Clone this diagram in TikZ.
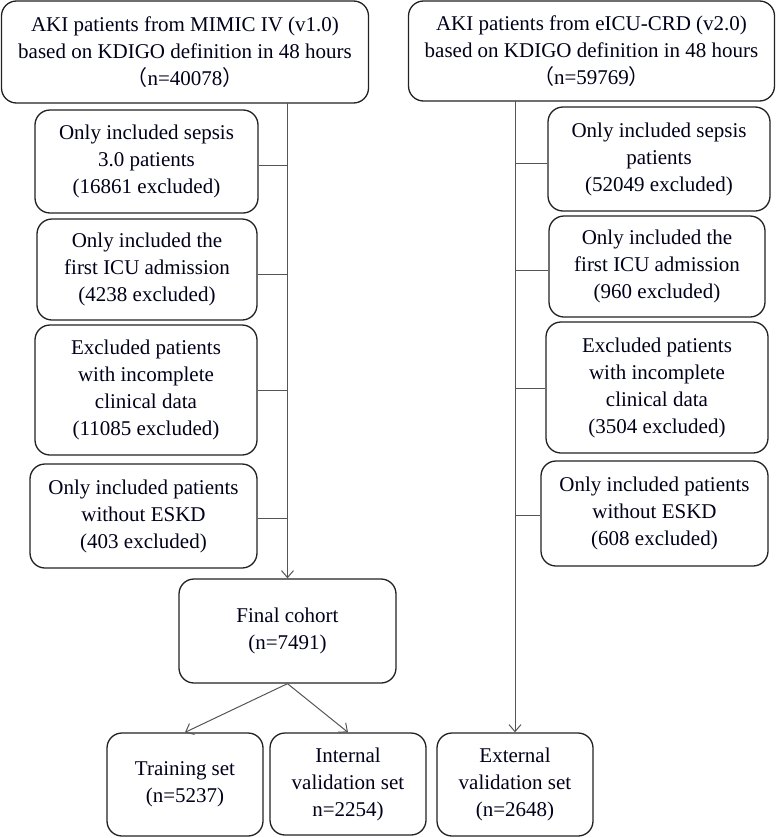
\documentclass[tikz,border=0pt]{standalone}
\usepackage{fontspec}
\setmainfont{Liberation Serif}
\newfontfamily\cjk{Noto Sans CJK SC}
\usetikzlibrary{arrows.meta}
\definecolor{linegray}{HTML}{555555}
\definecolor{boxline}{HTML}{222222}
\tikzset{
  box/.style={draw=boxline, line width=1.3pt, rounded corners=15pt, inner sep=0pt,
    align=center, font=\fontsize{21}{27}\selectfont, text=black!90!blue},
  conn/.style={draw=linegray, line width=1pt},
  arr/.style={conn, -{Straight Barb[length=7pt,width=12pt]}}
}
\begin{document}
\begin{tikzpicture}[x=1pt,y=-1pt]
\useasboundingbox (0,0) rectangle (778,838);
% top boxes
\node[box, minimum width=367pt, minimum height=102pt] (tl) at (185,52)
  {AKI patients from MIMIC IV (v1.0)\\based on KDIGO definition in 48 hours\\{\cjk （}n=40078{\cjk ）}};
\node[box, minimum width=366pt, minimum height=100pt] (tr) at (591.5,51)
  {AKI patients from eICU-CRD (v2.0)\\based on KDIGO definition in 48 hours\\{\cjk （}n=59769{\cjk ）}};
% left exclusion boxes
\node[box, minimum width=223pt, minimum height=103pt] (l1) at (146.5,161.5)
  {Only included sepsis\\3.0 patients\\(16861 excluded)};
\node[box, minimum width=220pt, minimum height=101pt] (l2) at (147,269.5)
  {Only included the\\first ICU admission\\(4238 excluded)};
\node[box, minimum width=222pt, minimum height=130pt] (l3) at (146,390)
  {Excluded patients\\with incomplete\\clinical data\\(11085 excluded)};
\node[box, minimum width=227pt, minimum height=104pt] (l4) at (143.5,516)
  {Only included patients\\without ESKD\\(403 excluded)};
% right exclusion boxes
\node[box, minimum width=222pt, minimum height=104pt] (r1) at (659,159)
  {Only included sepsis\\patients\\(52049 excluded)};
\node[box, minimum width=216pt, minimum height=101pt] (r2) at (657,266.5)
  {Only included the\\first ICU admission\\(960 excluded)};
\node[box, minimum width=222pt, minimum height=131pt] (r3) at (657,387.5)
  {Excluded patients\\with incomplete\\clinical data\\(3504 excluded)};
\node[box, minimum width=227pt, minimum height=105pt] (r4) at (654.5,513.5)
  {Only included patients\\without ESKD\\(608 excluded)};
% lower boxes
\node[box, minimum width=217pt, minimum height=104pt] (fin) at (287.5,631)
  {Final cohort\\(n=7491)};
\node[box, minimum width=156pt, minimum height=103pt] (train) at (185,784.5)
  {Training set\\(n=5237)};
\node[box, minimum width=156pt, minimum height=102pt] (intl) at (348,784)
  {Internal\\validation set\\n=2254)};
\node[box, minimum width=156pt, minimum height=103pt] (ext) at (515,784.5)
  {External\\validation set\\(n=2648)};
% trunks
\coordinate (lt) at (287.5,103);
\coordinate (rt) at (515,101);
\draw[arr] (lt) -- (fin.north);
\draw[arr] (rt) -- (ext.north);
% side connectors
\foreach \b/\s in {l1/-3.5,l2/-4.5,l3/0,l4/-2}
  \draw[conn] ([yshift=\s pt]\b.east) -- ([yshift=\s pt]\b.east -| lt);
\foreach \b/\s in {r1/-4,r2/-3.5,r3/-0.5,r4/-1.5}
  \draw[conn] ([yshift=\s pt]\b.west) -- ([yshift=\s pt]\b.west -| rt);
% split
\draw[arr] (fin.south) -- (train.north);
\draw[arr] (fin.south) -- (intl.north);
\end{tikzpicture}
\end{document}
